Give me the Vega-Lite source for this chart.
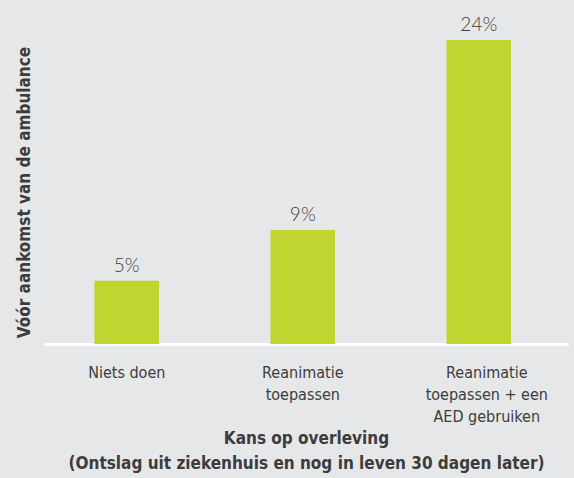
{
  "$schema": "https://vega.github.io/schema/vega-lite/v6.json",
  "width": 524,
  "height": 304,
  "autosize": {"type": "none"},
  "padding": {"left": 44, "top": 40, "right": 6, "bottom": 134},
  "background": "#e6e7e9",
  "config": {
    "view": {"stroke": null},
    "font": "DejaVu Sans Condensed"
  },
  "data": {
    "values": [
      {"categorie": "Niets doen", "kans": 0.05},
      {"categorie": "Reanimatie toepassen", "kans": 0.09},
      {"categorie": "Reanimatie toepassen + een AED gebruiken", "kans": 0.24}
    ]
  },
  "encoding": {
    "x": {
      "field": "categorie",
      "type": "nominal",
      "sort": null,
      "scale": {"paddingInner": 0.633, "paddingOuter": 0.305, "align": 0.47},
      "axis": {
        "title": ["Kans op overleving", "(Ontslag uit ziekenhuis en nog in leven 30 dagen later)"],
        "titleFont": "DejaVu Sans Condensed",
        "titleFontSize": 17,
        "titleFontWeight": "bold",
        "titleColor": "#3c3c3c",
        "titleLineHeight": 25,
        "titlePadding": 6,
        "labelAngle": 0,
        "labelFont": "DejaVu Sans Condensed",
        "labelFontSize": 16,
        "labelColor": "#3c3c3c",
        "labelLineHeight": 22,
        "labelPadding": 20,
        "labelBaseline": "top",
        "labelOffset": {"condition": {"test": "datum.value == 'Reanimatie toepassen + een AED gebruiken'", "value": 8}, "value": 0},
        "labelExpr": "datum.value == 'Reanimatie toepassen' ? ['Reanimatie', 'toepassen'] : datum.value == 'Reanimatie toepassen + een AED gebruiken' ? ['Reanimatie', 'toepassen + een', 'AED gebruiken'] : datum.value",
        "ticks": false,
        "domainColor": "#ffffff",
        "domainWidth": 3,
        "grid": false
      }
    },
    "y": {
      "field": "kans",
      "type": "quantitative",
      "scale": {"domain": [0, 0.24], "nice": false},
      "axis": {
        "title": "Vóór aankomst van de ambulance",
        "titleFont": "DejaVu Sans Condensed",
        "titleFontSize": 17,
        "titleFontWeight": "bold",
        "titleColor": "#3c3c3c",
        "titlePadding": 11,
        "labels": false,
        "ticks": false,
        "domain": false,
        "grid": false
      }
    }
  },
  "layer": [
    {"mark": {"type": "bar", "color": "#c0d530"}},
    {
      "mark": {"type": "text", "baseline": "alphabetic", "dy": -9, "font": "Lato", "fontWeight": 300, "fontSize": 19, "color": "#3f3f3f"},
      "encoding": {"text": {"field": "kans", "type": "quantitative", "format": ".0%"}}
    }
  ]
}
